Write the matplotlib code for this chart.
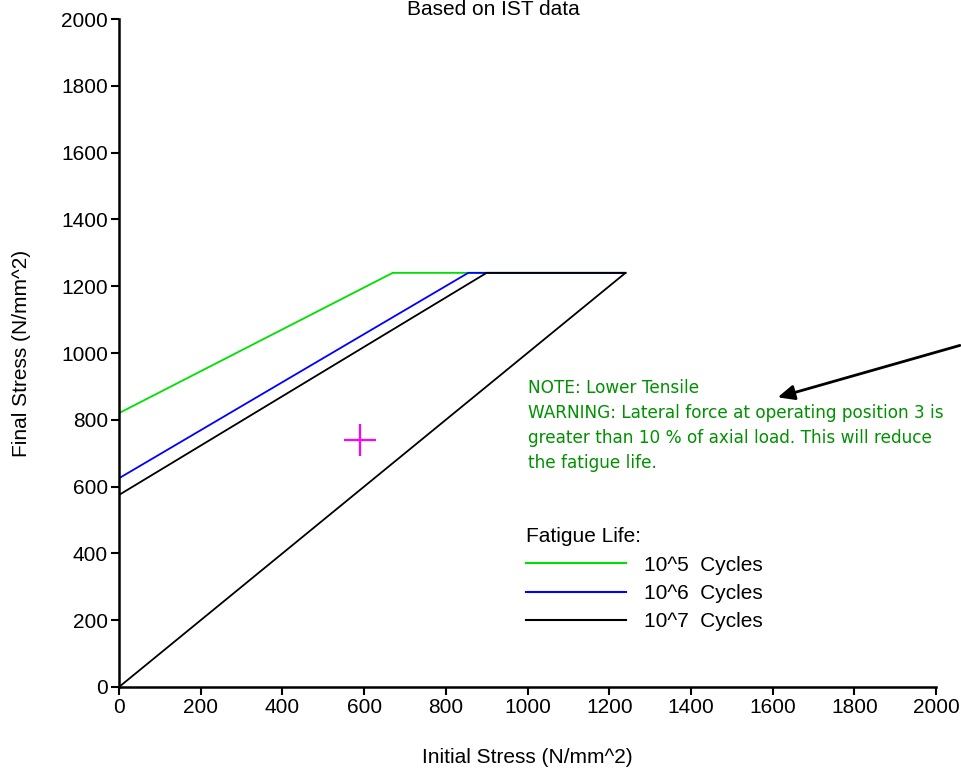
import matplotlib
matplotlib.use('Agg')
import matplotlib.pyplot as plt
from matplotlib.lines import Line2D

plt.rcParams['font.family'] = ['Liberation Sans', 'DejaVu Sans']

# fatigue limit lines: (initial stress, final stress) corner points
green_x = [0, 670, 1240]
green_y = [820, 1240, 1240]
blue_x = [0, 855, 1240]
blue_y = [625, 1240, 1240]
black_x = [0, 900, 1240, 0]
black_y = [575, 1240, 1240, 0]

# operating point
op_x = [590]
op_y = [740]

ticks = list(range(0, 2001, 200))
legend_labels = ['10^5  Cycles', '10^6  Cycles', '10^7  Cycles']
note = ('NOTE: Lower Tensile\n'
        'WARNING: Lateral force at operating position 3 is\n'
        'greater than 10 % of axial load. This will reduce\n'
        'the fatigue life.')

fig = plt.figure(figsize=(9.61, 7.72), dpi=100)
ax = fig.add_axes([119/961, 85/772, 817/961, 668/772])

ax.plot(green_x, green_y, color='#00e000', lw=1.3)
ax.plot(blue_x, blue_y, color='#0000ff', lw=1.3)
ax.plot(black_x, black_y, color='black', lw=1.3)
ax.plot(op_x, op_y, marker='+', color='#ff00ff', markersize=23,
        markeredgewidth=1.6, linestyle='none')

ax.set_xlim(0, 2000)
ax.set_ylim(0, 2000)
ax.set_xticks(ticks)
ax.set_yticks(ticks)
ax.tick_params(direction='out', length=6, width=1.5, labelsize=15, pad=2)
for s in ['top', 'right']:
    ax.spines[s].set_visible(False)
for s in ['left', 'bottom']:
    ax.spines[s].set_linewidth(1.8)

ax.set_xlabel('Initial Stress (N/mm^2)', fontsize=15)
ax.set_ylabel('Final Stress (N/mm^2)', fontsize=15)
ax.xaxis.set_label_coords(0.5, -0.092)
ax.yaxis.set_label_coords(-0.108, 0.5)

fig.text(493/961, 1 - 15/772, 'Based on IST data', ha='center',
         va='baseline', fontsize=15)

ax.text(1000, 922, note, color='#009000', fontsize=12.2,
        family=['DejaVu Sans'], va='top', ha='left', linespacing=1.5)
ax.annotate('', xy=(1606, 865), xytext=(2065, 1025),
            annotation_clip=False,
            arrowprops=dict(arrowstyle='-|>,head_length=1.0,head_width=0.45',
                            color='black', lw=2))

handles = [Line2D([], [], color=c, lw=1.5) for c in ['#00e000', '#0000ff', 'black']]
leg = ax.legend(handles, legend_labels, title='Fatigue Life:',
                loc='upper left', bbox_to_anchor=(0.498, 0.239),
                frameon=False, fontsize=15, title_fontsize=15,
                handlelength=4.8, handletextpad=0.87, labelspacing=0.45,
                borderpad=0, borderaxespad=0, alignment='left')

fig.savefig('out.png', dpi=100)
